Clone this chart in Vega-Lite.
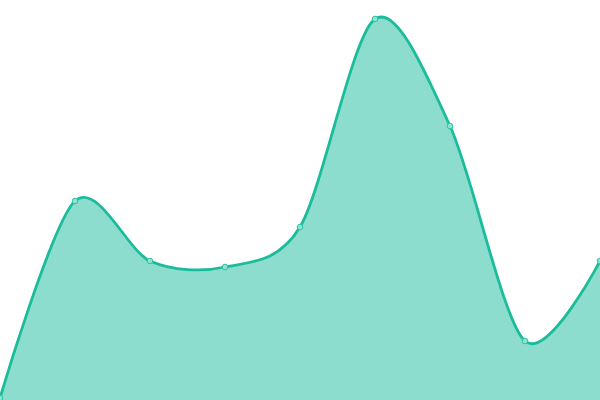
{
  "$schema": "https://vega.github.io/schema/vega-lite/v6.json",
  "width": 600,
  "height": 400,
  "autosize": {"type": "none"},
  "padding": 0,
  "config": {"view": {"stroke": null}},
  "data": {
    "values": [
      {"i": 0, "v": 2},
      {"i": 1, "v": 199},
      {"i": 2, "v": 139},
      {"i": 3, "v": 133},
      {"i": 4, "v": 173},
      {"i": 5, "v": 381},
      {"i": 6, "v": 274},
      {"i": 7, "v": 59},
      {"i": 8, "v": 139}
    ]
  },
  "encoding": {
    "x": {"field": "i", "type": "quantitative", "scale": {"domain": [0, 8], "nice": false, "zero": false}, "axis": null},
    "y": {"field": "v", "type": "quantitative", "scale": {"domain": [0, 400], "nice": false}, "axis": null}
  },
  "layer": [
    {"mark": {"type": "area", "interpolate": "cardinal", "tension": 0.1, "color": "#1abc9c", "opacity": 0.5, "clip": true}},
    {"mark": {"type": "line", "interpolate": "cardinal", "tension": 0.1, "color": "#1abc9c", "strokeWidth": 2.8, "clip": true}},
    {"mark": {"type": "point", "filled": true, "fill": "#8ee3d2", "stroke": "#2fc2a3", "strokeWidth": 1, "size": 32, "opacity": 1}}
  ]
}
